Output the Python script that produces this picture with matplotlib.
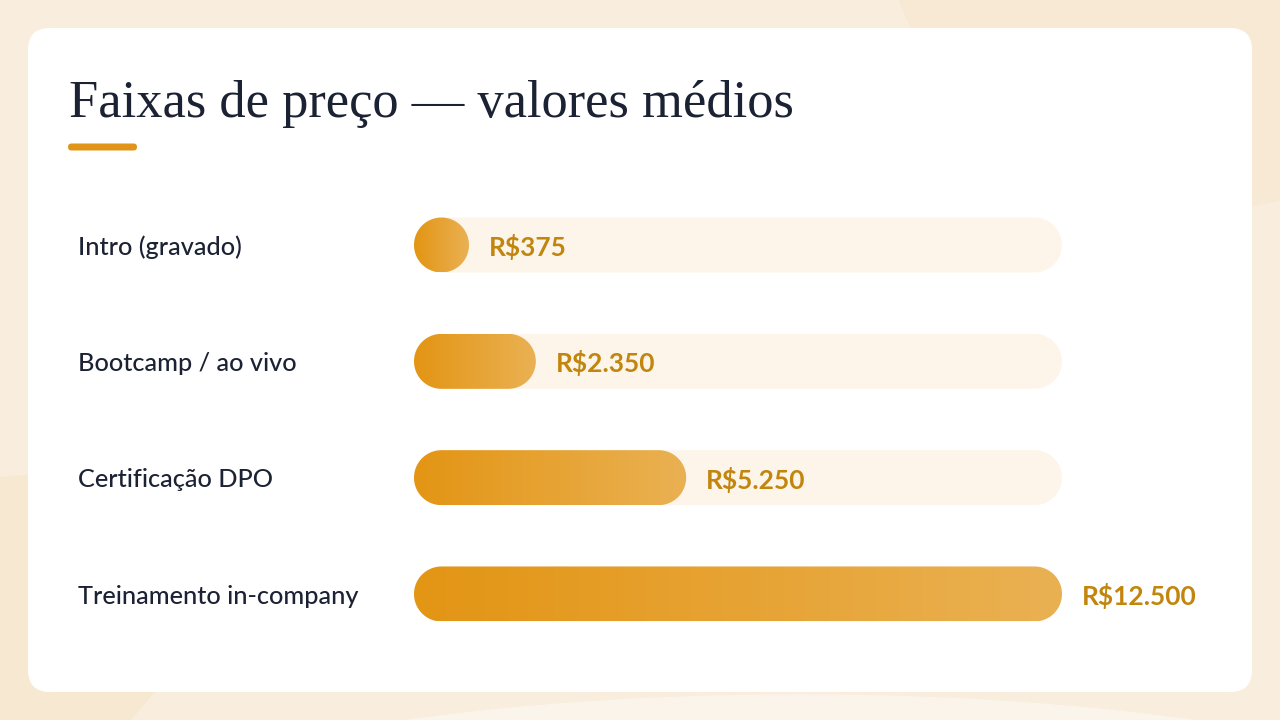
import numpy as np
import matplotlib
matplotlib.use('Agg')
import matplotlib.pyplot as plt
from matplotlib.patches import FancyBboxPatch, Ellipse, PathPatch
from matplotlib.path import Path
from matplotlib.colors import LinearSegmentedColormap

# data
categories = ['Intro (gravado)', 'Bootcamp / ao vivo', 'Certificação DPO', 'Treinamento in-company']
values = [375, 2350, 5250, 12500]
value_labels = ['R$375', 'R$2.350', 'R$5.250', 'R$12.500']
title = 'Faixas de preço — valores médios'

W, H = 1280, 720
fig = plt.figure(figsize=(W / 100, H / 100), dpi=100)
fig.patch.set_facecolor('#f9eedd')

# background layer in pixel units
bg = fig.add_axes([0, 0, 1, 1])
bg.set_xlim(0, W)
bg.set_ylim(H, 0)
bg.axis('off')
bg.add_patch(Ellipse((1200, -110), 640, 640, angle=0, color='#f8e9d5', zorder=0))
bg.add_patch(Ellipse((800, 820), 1300, 250, color='#fbf4ea', zorder=0))
bg.add_patch(Ellipse((-60, 660), 540, 320, angle=-25, color='#f7e8d2', zorder=0))
# card
bg.add_patch(FancyBboxPatch((28, 28), 1224, 664, boxstyle='round,pad=0,rounding_size=22',
                            fc='white', ec='none', zorder=1))
bg.text(69, 117, title, fontsize=37.8, family='Liberation Serif', color='#1b2233',
        va='baseline', ha='left', zorder=2)
bg.add_patch(FancyBboxPatch((68, 143.5), 69, 7, boxstyle='round,pad=0,rounding_size=3.5',
                            fc='#e0951a', ec='none', zorder=2))

# bars axes: track spans x=414..1062 px
x0, x1 = 414, 1062
ytop, ybot = 245, 594
n = len(categories)
row = (ybot - ytop) / (n - 1)
ax = fig.add_axes([x0 / W, 1 - (ybot + row / 2) / H, (x1 - x0) / W, (ybot - ytop + row) / H])
ax.set_xlim(0, max(values))
ax.set_ylim(n - 0.5, -0.5)
ax.axis('off')

bar_h = 55 / row  # in category units
px_per_x = (x1 - x0) / max(values)
rad_x = 27.5 / px_per_x
rad_y = bar_h / 2


def pill(left, width, yc):
    # stadium shape with true elliptical ends in data units
    t1 = np.linspace(np.pi / 2, 3 * np.pi / 2, 40)
    t2 = np.linspace(-np.pi / 2, np.pi / 2, 40)
    xa = left + rad_x + rad_x * np.cos(t1)
    ya = yc - rad_y * np.sin(t1)
    xb = left + width - rad_x + rad_x * np.cos(t2)
    yb = yc - rad_y * np.sin(t2)
    verts = np.column_stack([np.r_[xa, xb, xa[:1]], np.r_[ya, yb, ya[:1]]])
    codes = [Path.MOVETO] + [Path.LINETO] * (len(verts) - 2) + [Path.CLOSEPOLY]
    return Path(verts, codes)


cmap = LinearSegmentedColormap.from_list('g', ['#e39514', '#eab153'])
grad = np.linspace(0, 1, 256).reshape(1, -1)

for i, (cat, v, lab) in enumerate(zip(categories, values, value_labels)):
    ax.add_patch(PathPatch(pill(0, max(values), i), fc='#fdf5ea', ec='none', zorder=1))
    w = max(v, 2 * rad_x)
    bar = PathPatch(pill(0, w, i), fc='none', ec='none', zorder=2)
    ax.add_patch(bar)
    im = ax.imshow(grad, cmap=cmap, aspect='auto', extent=[0, w, i + bar_h / 2, i - bar_h / 2],
                   zorder=2, interpolation='bilinear')
    im.set_clip_path(bar)
    ax.annotate(lab, (w, i), xytext=(14.4, -1.5), textcoords='offset points',
                fontsize=19, fontweight='bold', family='Lato', color='#c2860f',
                va='center', ha='left', zorder=3)
    ax.annotate(cat, (0, i), xytext=(-(x0 - 78) * 0.72, -1.5), textcoords='offset points',
                fontsize=18.2, fontweight='medium', family='Lato', color='#1b2233',
                va='center', ha='left', zorder=3)

fig.savefig('out.png', dpi=100, facecolor=fig.get_facecolor())
